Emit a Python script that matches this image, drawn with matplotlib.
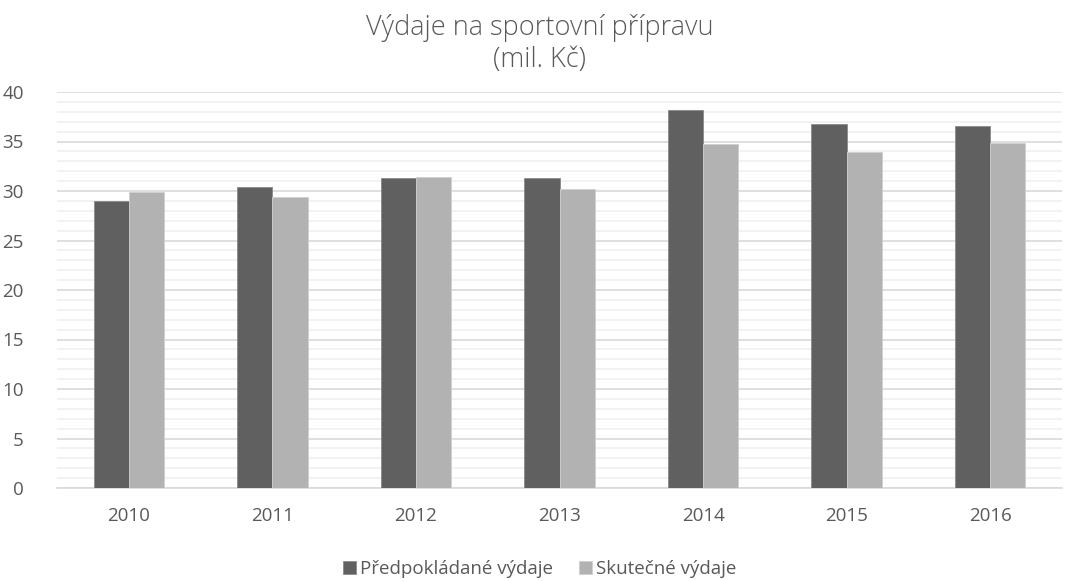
import matplotlib.pyplot as plt
import numpy as np
from matplotlib.ticker import MultipleLocator

years = ["2010", "2011", "2012", "2013", "2014", "2015", "2016"]
predpokladane = [29.0, 30.4, 31.3, 31.3, 38.2, 36.8, 36.6]
skutecne = [29.9, 29.4, 31.4, 30.2, 34.7, 33.9, 34.8]

plt.rcParams['font.family'] = ['Open Sans', 'DejaVu Sans']
txt = "#595959"

fig = plt.figure(figsize=(10.79, 5.81), dpi=100)
ax = fig.add_axes([57/1079, 1-488/581, 1005/1079, 396/581])

x = np.arange(len(years))
w = 0.245
ax.bar(x - w/2, predpokladane, w, color="#606060", edgecolor="#8a8a8a", linewidth=0.6,
       label="Předpokládané výdaje", zorder=3)
ax.bar(x + w/2, skutecne, w, color="#b2b2b2", edgecolor="#cfcfcf", linewidth=0.6,
       label="Skutečné výdaje", zorder=3)

ax.set_xlim(-0.5, len(years) - 0.5)
ax.set_ylim(0, 40)
ax.yaxis.set_major_locator(MultipleLocator(5))
ax.yaxis.set_minor_locator(MultipleLocator(1))
ax.grid(which="major", axis="y", color="#d9d9d9", linewidth=1.2, zorder=0)
ax.grid(which="minor", axis="y", color="#f0f0f0", linewidth=1.2, zorder=0)
ax.set_xticks(x)
ax.set_xticklabels(years)
ax.tick_params(axis="both", which="both", length=0, labelsize=13.5, colors=txt)
ax.tick_params(axis="y", pad=24)
ax.tick_params(axis="x", pad=14)
for s in ["top", "right", "left"]:
    ax.spines[s].set_visible(False)
ax.spines["bottom"].set_color("#d9d9d9")
ax.spines["bottom"].set_linewidth(1.2)

fig.text(0.5, 1-44/581, "Výdaje na sportovní přípravu\n(mil. Kč)", ha="center", va="center",
         fontsize=19.5, color=txt, linespacing=1.15, fontweight="light")

fig.legend(loc="center", bbox_to_anchor=(0.5, 1-569/581), ncol=2, frameon=False,
           fontsize=13.5, labelcolor=txt, handlelength=0.7, handleheight=0.7,
           handletextpad=0.2, columnspacing=1.4)

fig.savefig("out.png", dpi=100)
